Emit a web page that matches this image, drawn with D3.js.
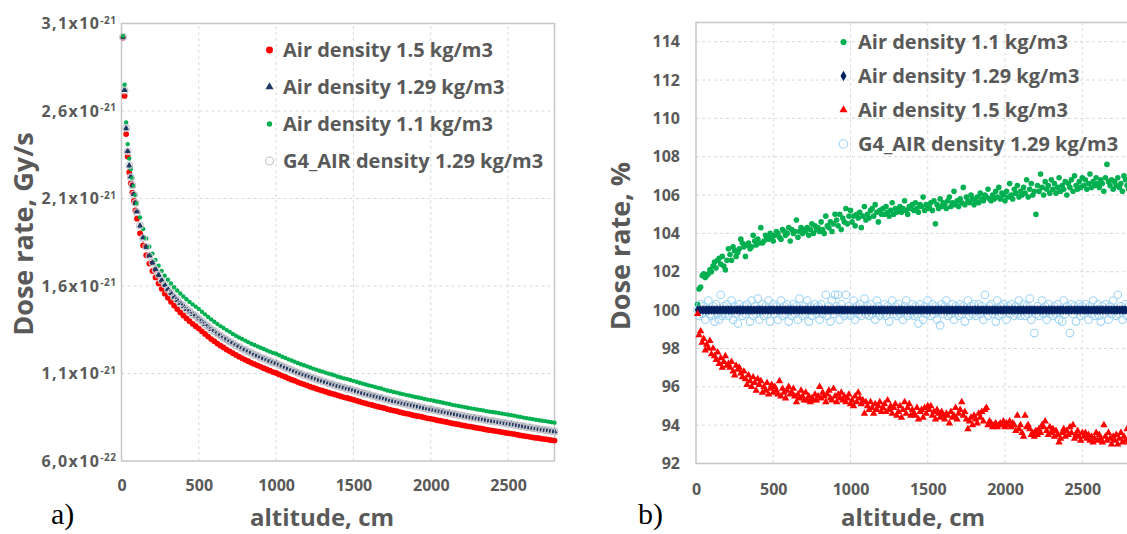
<!DOCTYPE html>
<html>
<head>
<meta charset="utf-8">
<script src="https://cdn.jsdelivr.net/npm/d3@7"></script>
<style>
  body { margin: 0; background: #fff; }
  svg text { font-family: "Open Sans", sans-serif; }
</style>
</head>
<body>
<svg id="chart" width="1127" height="534"></svg>
<script>
// ---- panel a) dose rate, values in 1e-21 Gy/s ----
const doseAltitude = d3.range(10, 101, 10).concat(d3.range(120, 2801, 20));

const dose150 = [
  3.018, 2.686, 2.468, 2.340, 2.250, 2.187, 2.134, 2.086, 2.032, 1.985,
  1.901, 1.832, 1.776, 1.728, 1.686, 1.649, 1.615, 1.584, 1.556, 1.533,
  1.510, 1.488, 1.468, 1.449, 1.432, 1.415, 1.399, 1.384, 1.370, 1.357,
  1.341, 1.326, 1.311, 1.297, 1.285, 1.271, 1.259, 1.249, 1.236, 1.227,
  1.216, 1.206, 1.196, 1.187, 1.178, 1.170, 1.161, 1.154, 1.146, 1.138,
  1.130, 1.123, 1.116, 1.108, 1.103, 1.095, 1.087, 1.080, 1.072, 1.065,
  1.059, 1.051, 1.044, 1.038, 1.032, 1.025, 1.019, 1.013, 1.007, 1.002,
  0.996, 0.990, 0.985, 0.980, 0.975, 0.969, 0.964, 0.960, 0.955, 0.950,
  0.945, 0.939, 0.934, 0.929, 0.924, 0.920, 0.915, 0.910, 0.906, 0.902,
  0.896, 0.892, 0.888, 0.885, 0.879, 0.875, 0.871, 0.868, 0.863, 0.859,
  0.856, 0.853, 0.848, 0.844, 0.841, 0.838, 0.833, 0.830, 0.826, 0.823,
  0.819, 0.815, 0.812, 0.809, 0.805, 0.802, 0.798, 0.796, 0.792, 0.789,
  0.786, 0.783, 0.779, 0.776, 0.774, 0.771, 0.768, 0.765, 0.762, 0.759,
  0.757, 0.754, 0.750, 0.746, 0.744, 0.741, 0.738, 0.735, 0.732, 0.730,
  0.727, 0.725, 0.722, 0.719, 0.717
];

const dose129 = [
  3.021, 2.720, 2.500, 2.371, 2.287, 2.225, 2.173, 2.126, 2.073, 2.025,
  1.944, 1.877, 1.822, 1.774, 1.733, 1.696, 1.663, 1.633, 1.606, 1.582,
  1.560, 1.539, 1.520, 1.502, 1.485, 1.469, 1.454, 1.440, 1.427, 1.414,
  1.398, 1.383, 1.368, 1.354, 1.341, 1.328, 1.316, 1.305, 1.293, 1.283,
  1.272, 1.262, 1.252, 1.243, 1.234, 1.225, 1.216, 1.208, 1.200, 1.192,
  1.185, 1.177, 1.170, 1.163, 1.157, 1.149, 1.141, 1.134, 1.126, 1.119,
  1.112, 1.105, 1.098, 1.092, 1.086, 1.079, 1.073, 1.067, 1.061, 1.056,
  1.050, 1.044, 1.039, 1.034, 1.028, 1.023, 1.018, 1.014, 1.009, 1.004,
  0.999, 0.993, 0.988, 0.983, 0.978, 0.974, 0.969, 0.964, 0.960, 0.955,
  0.950, 0.946, 0.942, 0.938, 0.933, 0.929, 0.925, 0.921, 0.917, 0.913,
  0.910, 0.906, 0.902, 0.898, 0.895, 0.891, 0.887, 0.884, 0.880, 0.876,
  0.873, 0.869, 0.866, 0.862, 0.859, 0.856, 0.852, 0.849, 0.846, 0.843,
  0.840, 0.837, 0.833, 0.830, 0.828, 0.825, 0.822, 0.819, 0.816, 0.813,
  0.810, 0.807, 0.803, 0.800, 0.797, 0.794, 0.791, 0.788, 0.785, 0.782,
  0.779, 0.777, 0.774, 0.771, 0.768
];

const dose110 = [
  3.030, 2.750, 2.535, 2.411, 2.328, 2.267, 2.216, 2.171, 2.119, 2.072,
  1.992, 1.926, 1.872, 1.825, 1.785, 1.749, 1.716, 1.686, 1.659, 1.636,
  1.614, 1.593, 1.574, 1.557, 1.540, 1.524, 1.509, 1.495, 1.482, 1.469,
  1.453, 1.438, 1.423, 1.409, 1.396, 1.383, 1.371, 1.360, 1.348, 1.338,
  1.326, 1.316, 1.306, 1.297, 1.288, 1.279, 1.270, 1.263, 1.255, 1.247,
  1.240, 1.232, 1.225, 1.218, 1.213, 1.204, 1.196, 1.189, 1.181, 1.174,
  1.167, 1.160, 1.153, 1.147, 1.141, 1.134, 1.128, 1.122, 1.116, 1.111,
  1.105, 1.099, 1.094, 1.089, 1.082, 1.077, 1.072, 1.068, 1.063, 1.058,
  1.053, 1.047, 1.042, 1.037, 1.032, 1.028, 1.023, 1.018, 1.014, 1.008,
  1.003, 0.999, 0.995, 0.991, 0.986, 0.982, 0.978, 0.974, 0.970, 0.966,
  0.963, 0.959, 0.955, 0.951, 0.948, 0.944, 0.940, 0.937, 0.933, 0.929,
  0.926, 0.921, 0.918, 0.914, 0.911, 0.908, 0.904, 0.901, 0.898, 0.895,
  0.892, 0.889, 0.885, 0.882, 0.880, 0.877, 0.874, 0.871, 0.868, 0.865,
  0.862, 0.859, 0.855, 0.852, 0.848, 0.845, 0.842, 0.839, 0.836, 0.833,
  0.830, 0.828, 0.825, 0.822, 0.819
];

const doseG4 = [
  3.024, 2.716, 2.503, 2.368, 2.290, 2.222, 2.176, 2.123, 2.075, 2.022,
  1.946, 1.874, 1.824, 1.771, 1.735, 1.694, 1.665, 1.631, 1.608, 1.580,
  1.562, 1.537, 1.521, 1.500, 1.487, 1.467, 1.455, 1.438, 1.428, 1.412,
  1.399, 1.381, 1.369, 1.352, 1.342, 1.327, 1.317, 1.303, 1.294, 1.281,
  1.273, 1.260, 1.253, 1.241, 1.235, 1.224, 1.217, 1.206, 1.201, 1.190,
  1.186, 1.176, 1.171, 1.161, 1.158, 1.148, 1.142, 1.132, 1.127, 1.118,
  1.113, 1.104, 1.099, 1.090, 1.087, 1.078, 1.074, 1.066, 1.062, 1.054,
  1.051, 1.043, 1.040, 1.032, 1.029, 1.022, 1.019, 1.012, 1.010, 1.003,
  1.000, 0.992, 0.989, 0.982, 0.979, 0.973, 0.970, 0.963, 0.961, 0.954,
  0.951, 0.945, 0.943, 0.937, 0.934, 0.928, 0.926, 0.920, 0.918, 0.912,
  0.911, 0.905, 0.903, 0.897, 0.896, 0.890, 0.888, 0.883, 0.881, 0.875,
  0.874, 0.868, 0.867, 0.861, 0.860, 0.855, 0.853, 0.848, 0.847, 0.842,
  0.841, 0.836, 0.834, 0.829, 0.829, 0.824, 0.823, 0.818, 0.817, 0.812,
  0.811, 0.806, 0.804, 0.799, 0.798, 0.793, 0.792, 0.787, 0.786, 0.781,
  0.780, 0.776, 0.775, 0.770, 0.769
];

const doseTicks = [0.6, 1.1, 1.6, 2.1, 2.6, 3.1];
const doseTickMantissa = ['6,0', '1,1', '1,6', '2,1', '2,6', '3,1'];
const doseTickExponent = ['-22', '-21', '-21', '-21', '-21', '-21'];
const altitudeTicks = [0, 500, 1000, 1500, 2000, 2500];

// ---- panel b) dose rate relative to air density 1.29 kg/m3, % ----
const ratioAltitude = d3.range(10, 2801, 10);

const ratio110 = [
  100.3, 101.1, 101.2, 101.8, 101.9, 101.7, 101.8, 101.9, 102.1, 102.0,
  102.3, 102.5, 102.2, 102.6, 102.7, 102.4, 102.8, 102.3, 102.1, 102.6,
  103.2, 102.9, 102.6, 103.3, 103.1, 102.8, 103.0, 103.2, 103.7, 103.5,
  103.3, 102.8, 103.4, 103.5, 103.2, 103.3, 103.9, 103.6, 103.4, 103.7,
  103.5, 104.3, 103.5, 103.6, 103.9, 103.8, 103.7, 104.0, 103.8, 103.6,
  103.9, 104.1, 104.0, 103.8, 103.7, 104.2, 104.1, 103.9, 104.0, 104.3,
  103.6, 104.2, 104.0, 104.1, 104.7, 103.8, 104.1, 104.3, 104.0, 104.2,
  104.1, 104.3, 103.9, 104.2, 104.5, 104.0, 104.4, 104.2, 104.3, 104.1,
  104.6, 104.2, 104.0, 104.9, 104.4, 104.3, 104.6, 104.1, 104.5, 105.0,
  104.7, 104.4, 105.0, 104.2, 104.8, 104.6, 105.3, 104.5, 104.9, 105.2,
  104.6, 104.9, 104.4, 105.0, 104.8, 105.1, 104.3, 104.9, 105.4, 104.7,
  105.0, 104.8, 105.2, 105.3, 104.9, 105.5, 105.1, 104.6, 105.2, 105.0,
  105.3, 105.0, 105.4, 105.1, 104.9, 105.2, 105.6, 105.0, 105.3, 105.1,
  105.2, 105.4, 105.1, 105.3, 105.7, 105.2, 105.0, 105.4, 105.3, 105.5,
  105.2, 105.6, 105.3, 105.1, 105.5, 105.4, 105.9, 105.2, 105.5, 105.3,
  105.4, 105.6, 105.2, 105.7, 104.5, 105.5, 105.3, 105.8, 105.4, 105.6,
  105.5, 105.3, 105.7, 105.9, 105.4, 105.6, 106.2, 105.5, 105.7, 105.4,
  105.8, 105.6, 106.4, 105.5, 105.9, 105.7, 105.6, 106.0, 105.8, 105.5,
  105.7, 105.9, 105.6, 106.1, 105.8, 105.7, 106.0, 105.9, 106.3, 105.8,
  105.7, 106.0, 105.8, 106.2, 105.9, 106.4, 105.8, 106.1, 106.0, 105.7,
  106.2, 105.9, 106.6, 106.0, 105.8, 106.3, 106.1, 106.5, 105.9, 106.2,
  106.0, 106.4, 106.1, 106.8, 105.9, 106.3, 106.6, 106.0, 106.2, 105.0,
  106.5, 106.2, 107.1, 106.4, 106.0, 106.7, 106.3, 106.5, 106.1, 106.8,
  106.3, 106.6, 106.1, 106.4, 106.9, 106.2, 106.5, 106.3, 106.7, 106.0,
  106.6, 106.4, 106.8, 106.2, 107.0, 106.5, 106.3, 106.7, 106.4, 106.9,
  106.5, 106.8, 106.3, 106.6, 107.1, 106.4, 106.7, 106.5, 106.9, 106.6,
  106.4, 106.8, 106.6, 106.2, 106.9, 107.6, 106.7, 106.5, 106.8, 106.3,
  106.7, 106.5, 106.9, 106.4, 106.6, 106.2, 107.0, 106.8, 106.5, 106.3
];

// the 1.29 kg/m3 run is the reference of the ratio, so it sits at 100 % everywhere
const ratio129 = ratioAltitude.map(() => 100);

const ratio150 = [
  99.8, 98.7, 98.9, 98.3, 98.5, 97.9, 98.2, 98.0, 98.4, 97.7,
  98.0, 97.6, 97.4, 97.8, 97.2, 97.5, 97.0, 97.3, 97.6, 97.1,
  97.2, 97.0, 97.3, 96.8, 96.6, 97.1, 96.9, 97.0, 96.7, 96.5,
  96.8, 96.4, 96.1, 96.6, 96.3, 96.0, 96.5, 96.2, 95.8, 96.4,
  96.1, 96.3, 95.7, 96.0, 95.8, 96.2, 95.6, 95.9, 96.1, 95.7,
  96.0, 95.8, 95.6, 96.3, 95.5, 95.9, 95.7, 95.4, 95.8, 96.0,
  95.6, 95.7, 95.9, 95.5, 95.2, 95.6, 95.4, 95.8, 95.5, 95.3,
  95.7, 95.3, 95.5, 95.2, 95.4, 95.3, 95.6, 95.3, 95.5, 96.0,
  95.4, 95.7, 95.5, 95.2, 95.6, 95.8, 95.4, 95.3, 95.9, 95.5,
  95.2, 95.6, 95.4, 95.7, 95.3, 95.5, 95.2, 95.4, 95.6, 95.1,
  95.3, 95.0, 95.5, 95.2, 95.7, 95.4, 95.1, 95.3, 94.6, 95.2,
  95.0, 94.8, 95.2, 94.9, 94.6, 95.1, 94.8, 95.0, 95.2, 94.7,
  94.9, 95.1, 94.7, 95.3, 94.8, 95.0, 94.6, 94.9, 95.1, 94.5,
  94.7, 95.0, 94.4, 94.8, 95.2, 94.6, 94.9, 95.1, 94.5, 94.8,
  94.6, 94.5, 94.9, 94.3, 94.7, 94.8, 94.4, 94.9, 94.6, 95.0,
  94.8, 95.0, 94.5, 94.7, 94.3, 94.8, 94.6, 94.4, 94.7, 94.5,
  94.3, 94.6, 94.5, 94.1, 94.7, 94.4, 94.5, 94.9, 94.3, 94.6,
  94.8, 95.2, 94.5, 94.7, 94.3, 93.8, 94.2, 94.4, 94.0, 94.5,
  94.3, 94.1, 94.6, 94.4, 94.7, 94.2, 94.8, 94.9, 94.0, 94.2,
  94.1, 93.9, 94.0, 94.1, 93.9, 94.0, 94.1, 94.0, 94.2, 93.9,
  94.1, 94.0, 94.2, 93.9, 94.1, 94.0, 93.7, 94.5, 93.8, 94.0,
  93.6, 93.4, 94.5, 93.9, 94.0, 93.8, 93.5, 93.6, 93.4, 93.7,
  93.5, 93.8, 93.6, 94.0, 93.9, 94.2, 93.7, 93.5, 93.9, 93.6,
  93.8, 93.4, 93.7, 93.5, 93.1, 93.3, 93.6, 93.8, 93.4, 93.7,
  93.5, 93.9, 93.6, 94.0, 93.3, 93.5, 93.7, 93.4, 93.2, 93.6,
  93.4, 93.6, 93.3, 93.5, 93.2, 93.4, 93.1, 93.3, 93.6, 93.2,
  93.5, 93.3, 93.1, 94.0, 93.4, 93.2, 93.6, 93.3, 93.0, 93.4,
  93.2, 93.5, 93.0, 93.3, 93.6, 93.1, 93.4, 93.2, 93.8, 93.1
];

const ratioG4 = [
  100.0, 99.7, 100.3, 99.8, 100.2, 99.5, 100.0, 100.5, 99.8, 99.7,
  100.2, 99.4, 100.3, 99.8, 99.5, 100.8, 99.7, 100.2, 99.8, 100.3,
  99.7, 100.0, 100.5, 99.5, 100.2, 99.8, 99.3, 100.3, 100.0, 99.7,
  100.2, 99.8, 100.3, 100.0, 99.4, 100.5, 99.7, 100.2, 99.8, 100.6,
  99.5, 100.0, 100.3, 99.7, 100.2, 99.8, 100.5, 99.4, 100.0, 100.3,
  99.8, 100.2, 99.5, 100.0, 100.5, 99.7, 100.2, 99.8, 100.3, 99.4,
  100.0, 99.7, 100.3, 99.8, 100.2, 99.5, 100.6, 100.0, 99.7, 100.2,
  99.8, 100.5, 99.4, 100.2, 99.7, 100.0, 100.3, 99.8, 100.2, 99.5,
  100.3, 99.8, 100.0, 100.8, 99.7, 100.2, 99.4, 100.5, 99.8, 100.8,
  100.2, 100.8, 99.5, 100.3, 100.0, 99.7, 100.8, 99.8, 100.2, 99.7,
  100.0, 100.5, 99.5, 100.2, 99.8, 100.3, 99.7, 100.0, 100.6, 99.8,
  100.2, 99.7, 100.3, 99.8, 100.0, 99.5, 100.5, 100.2, 99.7, 100.0,
  99.8, 100.3, 99.7, 100.2, 99.4, 100.0, 100.5, 99.8, 100.2, 99.7,
  100.3, 99.8, 100.0, 99.5, 100.2, 100.5, 99.7, 100.0, 99.8, 100.3,
  99.7, 100.2, 99.8, 99.3, 100.3, 100.0, 99.5, 100.2, 99.8, 100.5,
  100.0, 99.7, 100.3, 99.8, 100.2, 99.5, 100.0, 99.2, 100.3, 99.8,
  100.2, 100.5, 99.7, 100.0, 99.8, 100.3, 99.5, 100.2, 100.0, 99.7,
  100.3, 99.8, 100.2, 99.4, 100.0, 100.5, 99.7, 100.2, 99.8, 100.3,
  99.7, 100.0, 100.3, 99.8, 100.2, 99.5, 100.8, 100.0, 99.7, 100.2,
  100.3, 99.8, 100.0, 99.4, 100.5, 99.7, 100.2, 99.8, 100.3, 100.0,
  99.5, 100.2, 99.8, 100.3, 100.0, 99.7, 100.2, 99.8, 100.5, 99.7,
  100.0, 100.3, 99.7, 100.2, 99.8, 100.6, 99.5, 100.0, 98.8, 99.8,
  100.2, 99.7, 100.0, 100.5, 99.8, 100.2, 99.5, 100.3, 99.8, 100.0,
  99.7, 100.2, 99.8, 100.3, 99.5, 100.0, 99.4, 100.5, 99.8, 100.2,
  100.0, 98.8, 100.3, 99.8, 100.2, 99.4, 100.0, 100.3, 99.7, 100.2,
  99.8, 100.3, 100.0, 99.5, 100.2, 99.8, 100.5, 99.7, 100.0, 100.3,
  99.7, 99.4, 100.2, 99.8, 100.3, 100.0, 99.5, 100.2, 99.8, 100.5,
  100.0, 99.7, 100.8, 99.8, 100.2, 99.5, 100.0, 100.3, 99.7, 100.2
];

const ratioTicks = [92, 94, 96, 98, 100, 102, 104, 106, 108, 110, 112, 114];

// ---- styles ----
const grey = '#595959',
    gridColor = '#d9d9d9',
    borderColor = '#c6c6c6';

const seriesA = [
    { name: 'Air density 1.5 kg/m3', values: dose150, shape: 'circle', r: 2.9, fill: '#ff0000', legendY: 50 },
    { name: 'Air density 1.29 kg/m3', values: dose129, shape: 'triangle', size: 20, fill: '#1f3864', legendY: 87 },
    { name: 'Air density 1.1 kg/m3', values: dose110, shape: 'circle', r: 2.2, fill: '#00b050', legendY: 124 },
    { name: 'G4_AIR density 1.29 kg/m3', values: doseG4, shape: 'circle', r: 3.3, fill: 'none', stroke: '#c3c3c8', legendY: 161 }
];

const seriesB = [
    { name: 'Air density 1.1 kg/m3', values: ratio110, shape: 'circle', r: 2.8, fill: '#00b050', legendY: 42, order: 0 },
    { name: 'Air density 1.29 kg/m3', values: ratio129, shape: 'diamond', size: 26, fill: '#002060', legendY: 76, order: 2 },
    { name: 'Air density 1.5 kg/m3', values: ratio150, shape: 'triangle', size: 24, fill: '#ff0000', legendY: 110, order: 3 },
    { name: 'G4_AIR density 1.29 kg/m3', values: ratioG4, shape: 'circle', r: 3.8, fill: 'none', stroke: '#9fd4f3', legendY: 144, order: 1 }
];

const svg = d3.select('#chart');

function markerPath(s, scale) {
    const type = s.shape === 'triangle' ? d3.symbolTriangle : d3.symbolDiamond;
    return d3.symbol(type, s.size * (scale || 1))();
}

function drawMarkers(g, xs, s, x, y) {
    const pts = xs.map((a, i) => [a, s.values[i]]);

    if (s.shape === 'circle') {
        g.append('g').selectAll('circle')
            .data(pts)
            .join('circle')
            .attr('cx', d => x(d[0]))
            .attr('cy', d => y(d[1]))
            .attr('r', s.r)
            .attr('fill', s.fill)
            .attr('stroke', s.stroke || 'none')
            .attr('stroke-width', 1.1);
    } else {
        g.append('g').selectAll('path')
            .data(pts)
            .join('path')
            .attr('d', markerPath(s))
            .attr('transform', d => `translate(${x(d[0])},${y(d[1])})`)
            .attr('fill', s.fill);
    }
}

function legendMarker(g, s, cx, cy, grow) {
    if (s.shape === 'circle') {
        g.append('circle')
            .attr('cx', cx).attr('cy', cy)
            .attr('r', s.r * grow)
            .attr('fill', s.fill)
            .attr('stroke', s.stroke || 'none')
            .attr('stroke-width', 1.1);
    } else {
        g.append('path')
            .attr('d', markerPath(s, grow * grow))
            .attr('transform', `translate(${cx},${cy})`)
            .attr('fill', s.fill);
    }
}

function grid(g, x, y, xTicks, yTicks) {
    const [x0, x1] = x.range(), [y0, y1] = y.range();

    g.append('g').selectAll('line')
        .data(xTicks)
        .join('line')
        .attr('x1', d => x(d)).attr('x2', d => x(d))
        .attr('y1', y0).attr('y2', y1);

    g.append('g').selectAll('line')
        .data(yTicks)
        .join('line')
        .attr('x1', x0).attr('x2', x1)
        .attr('y1', d => y(d)).attr('y2', d => y(d));

    g.selectAll('line')
        .attr('stroke', gridColor)
        .attr('stroke-dasharray', '3,3')
        .attr('stroke-width', 1);

    g.append('rect')
        .attr('x', x0).attr('y', y1)
        .attr('width', x1 - x0).attr('height', y0 - y1)
        .attr('fill', 'none')
        .attr('stroke', borderColor)
        .attr('stroke-width', 1.5);
}

function tidyAxis(g) {
    g.select('.domain').remove();
    g.attr('font-family', null).attr('font-size', null);
    g.selectAll('.tick text')
        .attr('fill', grey)
        .style('font-weight', 700)
        .style('font-size', '16px');
}

function titles(cx, yTitleX, yTitleY, yTitle, letter, letterX) {
    svg.append('text')
        .attr('x', cx).attr('y', 526)
        .attr('text-anchor', 'middle')
        .attr('fill', grey)
        .style('font-weight', 700)
        .style('font-size', '24px')
        .text('altitude, cm');

    svg.append('text')
        .attr('transform', `translate(${yTitleX},${yTitleY}) rotate(-90)`)
        .attr('text-anchor', 'middle')
        .attr('dy', '0.35em')
        .attr('fill', grey)
        .style('font-weight', 700)
        .style('font-size', '27px')
        .text(yTitle);

    svg.append('text')
        .attr('x', letterX).attr('y', 524)
        .attr('fill', '#000')
        .style('font-family', '"Liberation Serif", serif')
        .style('font-size', '30px')
        .text(letter);
}

function legend(series, markerX, textX, grow) {
    const g = svg.append('g');

    series.forEach(s => {
        legendMarker(g, s, markerX, s.legendY, grow);

        g.append('text')
            .attr('x', textX).attr('y', s.legendY)
            .attr('dy', '0.35em')
            .attr('fill', grey)
            .style('font-weight', 700)
            .style('font-size', '20px')
            .text(s.name);
    });
}

// ---- panel a ----
function buildPanelA() {
    const x = d3.scaleLinear().domain([0, 2800]).range([121.5, 554.5]),
        y = d3.scaleLinear().domain([0.6, 3.1]).range([461, 23.5]);

    grid(svg.append('g'), x, y, altitudeTicks.slice(1), doseTicks.slice(1, -1));

    svg.append('g')
        .attr('transform', `translate(0,${y.range()[0]})`)
        .call(d3.axisBottom(x).tickValues(altitudeTicks).tickSize(0).tickPadding(19).tickFormat(d3.format('d')))
        .call(tidyAxis);

    const yAxis = svg.append('g')
        .attr('transform', `translate(${x.range()[0]},0)`)
        .call(d3.axisLeft(y).tickValues(doseTicks).tickSize(0).tickPadding(5)
            .tickFormat((d, i) => doseTickMantissa[i] + 'x10'))
        .call(tidyAxis);

    yAxis.selectAll('.tick text')
        .style('letter-spacing', '1.4px')
        .append('tspan')
        .attr('dy', '-0.55em')
        .style('font-size', '10px')
        .style('letter-spacing', '0.5px')
        .text((d, i) => doseTickExponent[i]);

    const marks = svg.append('g');
    seriesA.forEach(s => drawMarkers(marks, doseAltitude, s, x, y));

    legend(seriesA, 269.5, 283, 1.2);
    titles(322, 24, 234, 'Dose rate, Gy/s', 'a)', 51);
}

// ---- panel b ----
function buildPanelB() {
    const x = d3.scaleLinear().domain([0, 2800]).range([696, 1128.6]),
        y = d3.scaleLinear().domain([92, 115]).range([463.5, 22.5]);

    grid(svg.append('g'), x, y, altitudeTicks.slice(1), ratioTicks.slice(1));

    svg.append('g')
        .attr('transform', `translate(0,${y.range()[0]})`)
        .call(d3.axisBottom(x).tickValues(altitudeTicks).tickSize(0).tickPadding(20).tickFormat(d3.format('d')))
        .call(tidyAxis);

    svg.append('g')
        .attr('transform', `translate(${x.range()[0]},0)`)
        .call(d3.axisLeft(y).tickValues(ratioTicks).tickSize(0).tickPadding(16))
        .call(tidyAxis);

    const marks = svg.append('g');
    seriesB.slice()
        .sort((a, b) => a.order - b.order)
        .forEach(s => drawMarkers(marks, ratioAltitude, s, x, y));

    legend(seriesB, 843.5, 858, 1.1);
    titles(913, 621, 246, 'Dose rate, %', 'b)', 638);
}

buildPanelA();
buildPanelB();
</script>
</body>
</html>
